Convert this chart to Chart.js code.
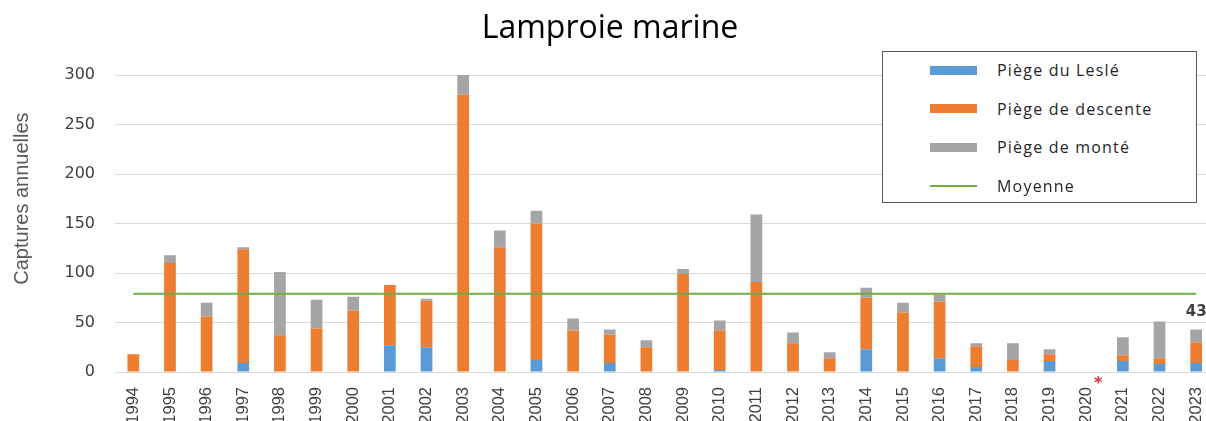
<!DOCTYPE html>
<html lang="fr">
<head>
<meta charset="utf-8">
<title>Lamproie marine</title>
<script src="https://cdn.jsdelivr.net/npm/chart.js@4.4.1/dist/chart.umd.min.js"></script>
<style>
  html, body { margin: 0; padding: 0; background: #fff; overflow: hidden; }
  #wrap { position: relative; width: 1206px; height: 421px; overflow: hidden; }
  #myChart { position: absolute; left: 0; top: 0; }
  #legend {
    position: absolute; left: 882px; top: 51px; width: 315px; height: 152px;
    box-sizing: border-box; border: 1px solid #595959; background: #fff;
    font-family: "Open Sans", sans-serif; font-size: 16px; letter-spacing: 1.2px; color: #262626;
  }
  .legend-row { position: absolute; left: 0; width: 100%; height: 38.6px; }
  .legend-swatch { position: absolute; left: 47px; top: 50%; width: 47px; height: 9px; margin-top: -4.5px; }
  .legend-text { position: absolute; left: 114px; top: 0; line-height: 38.6px; white-space: nowrap; }
</style>
</head>
<body>
<div id="wrap">
  <canvas id="myChart" width="1223" height="421"></canvas>
  <div id="legend"></div>
</div>
<script>
// Data block
const years = ["1994", "1995", "1996", "1997", "1998", "1999", "2000", "2001", "2002", "2003",
  "2004", "2005", "2006", "2007", "2008", "2009", "2010", "2011", "2012", "2013",
  "2014", "2015", "2016", "2017", "2018", "2019", "2020", "2021", "2022", "2023"];
const lesle = [0, 0, 0, 9, 0, 0, 0, 27, 25, 0, 0, 12, 0, 9, 0, 0, 2, 0, 0, 0, 23, 0, 14, 5, 0, 11, 0, 11, 8, 9];
const descente = [18, 110, 56, 115, 37, 44, 62, 61, 47, 280, 126, 138, 42, 29, 25, 99, 40, 91, 29, 14, 52, 60, 57, 21, 12, 7, 0, 6, 6, 21];
const monte = [0, 8, 14, 2, 64, 29, 14, 0, 2, 20, 17, 13, 12, 5, 7, 5, 10, 68, 11, 6, 10, 10, 7, 3, 17, 5, 0, 18, 37, 13];
const moyenne = [79, 79, 79, 79, 79, 79, 79, 79, 79, 79, 79, 79, 79, 79, 79,
  79, 79, 79, 79, 79, 79, 79, 79, 79, 79, 79, 79, 79, 79, 79];
const yTicks = [0, 50, 100, 150, 200, 250, 300];
const noData = ["2020"];
const chartTitle = "Lamproie marine";
const yTitle = "Captures annuelles";

// draws y axis title a bit above centre, like the original
const yTitlePlugin = {
  id: "yTitle",
  afterDraw(chart) {
    const { ctx, chartArea } = chart;
    ctx.save();
    ctx.translate(22.5, chartArea.top + (chartArea.bottom - chartArea.top) * 0.416);
    ctx.rotate(-Math.PI / 2);
    ctx.font = '20px "Liberation Sans", Arial, sans-serif';
    ctx.fillStyle = "#595959";
    ctx.textAlign = "center";
    ctx.textBaseline = "middle";
    ctx.fillText(yTitle, 0, 0);
    ctx.restore();
  },
};

// total over the last bar + red star for missing year
const annotatePlugin = {
  id: "annotate",
  afterDatasetsDraw(chart) {
    const { ctx } = chart;
    const xScale = chart.scales.x;
    const yScale = chart.scales.y;
    const last = years.length - 1;
    const total = lesle[last] + descente[last] + monte[last];
    ctx.save();
    ctx.font = 'bold 15px "DejaVu Sans", sans-serif';
    ctx.fillStyle = "#404040";
    ctx.textAlign = "center";
    ctx.textBaseline = "alphabetic";
    ctx.fillText(String(total), xScale.getPixelForValue(last), yScale.getPixelForValue(total) - 13);

    ctx.font = 'bold 16px "DejaVu Sans", sans-serif';
    ctx.fillStyle = "#E4283F";
    noData.forEach((yr) => {
      const i = years.indexOf(yr);
      ctx.fillText("*", xScale.getPixelForValue(i) + 12, yScale.bottom + 16);
    });
    ctx.restore();
  },
};

function barSet(label, values, color) {
  return {
    label: label,
    data: values,
    backgroundColor: color,
    borderWidth: 0,
    barPercentage: 0.32,
    categoryPercentage: 1,
    order: 1,
  };
}

const data = {
  labels: years,
  datasets: [
    barSet("Piège du Leslé", lesle, "#5B9BD5"),
    barSet("Piège de descente", descente, "#ED7D31"),
    barSet("Piège de monté", monte, "#A5A5A5"),
    {
      type: "line",
      label: "Moyenne",
      data: moyenne,
      borderColor: "#70AD47",
      backgroundColor: "#70AD47",
      borderWidth: 2,
      pointRadius: 0,
      fill: false,
      order: 0,
    },
  ],
};

const options = {
  responsive: false,
  animation: false,
  layout: { padding: { left: 0, right: 3, top: 0, bottom: 0 } },
  plugins: {
    legend: { display: false },
    tooltip: { enabled: false },
    title: {
      display: true,
      text: chartTitle,
      color: "#000000",
      font: { family: '"Open Sans", sans-serif', size: 32, weight: "normal" },
      padding: { top: 10, bottom: 26.6 },
    },
  },
  scales: {
    x: {
      stacked: true,
      grid: { display: false },
      border: { display: false },
      ticks: {
        autoSkip: false,
        minRotation: 90,
        maxRotation: 90,
        padding: 7,
        color: "#404040",
        font: { family: '"Liberation Sans", Arial, sans-serif', size: 16.5 },
      },
      afterFit: function (scale) {
        scale.height = 49;
      },
    },
    y: {
      stacked: true,
      min: 0,
      max: 300,
      border: { display: false },
      grid: { color: "#D9D9D9", lineWidth: 1, drawTicks: false },
      afterBuildTicks: function (scale) {
        scale.ticks = yTicks.map((v) => ({ value: v }));
      },
      ticks: {
        padding: 20,
        color: "#404040",
        font: { family: '"DejaVu Sans", sans-serif', size: 16 },
      },
      afterFit: function (scale) {
        scale.width = 115;
      },
    },
  },
};

const config = {
  type: "bar",
  data: data,
  options: options,
  plugins: [yTitlePlugin, annotatePlugin],
};

const myChart = new Chart(document.getElementById("myChart"), config);

// HTML legend from the chart datasets
function buildLegend(chart) {
  const box = document.getElementById("legend");
  chart.data.datasets.forEach((ds, i) => {
    const row = document.createElement("div");
    row.className = "legend-row";
    row.style.top = i * 38.6 - 1 + "px";
    const sw = document.createElement("span");
    sw.className = "legend-swatch";
    if (ds.type === "line") {
      sw.style.height = "2px";
      sw.style.marginTop = "-1px";
      sw.style.background = ds.borderColor;
    } else {
      sw.style.background = ds.backgroundColor;
    }
    const txt = document.createElement("span");
    txt.className = "legend-text";
    txt.textContent = ds.label;
    row.appendChild(sw);
    row.appendChild(txt);
    box.appendChild(row);
  });
}
buildLegend(myChart);
</script>
</body>
</html>
